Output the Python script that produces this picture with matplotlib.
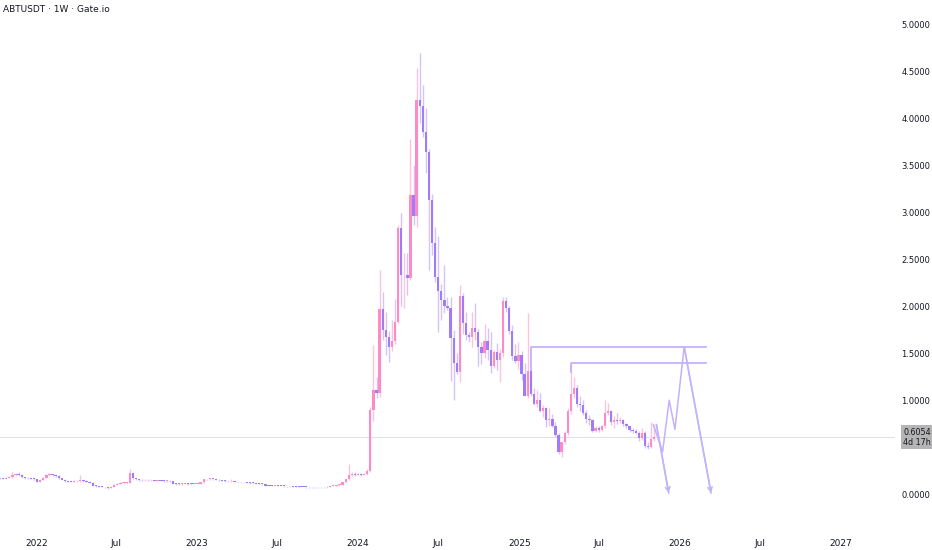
import matplotlib
matplotlib.use("Agg")
import matplotlib.pyplot as plt
import matplotlib.dates as mdates
import numpy as np
import pandas as pd

# weekly candles, ABTUSDT (Gate.io), first week 2021-10-11
first_week = "2021-10-11"
first_open = 0.17
closes = [
    0.167, 0.165, 0.175, 0.18, 0.205, 0.21, 0.205, 0.18, 0.17, 0.168,
    0.165, 0.16, 0.13, 0.15, 0.175, 0.20, 0.21, 0.205, 0.195, 0.17,
    0.15, 0.135, 0.132, 0.13, 0.135, 0.138, 0.14, 0.138, 0.13, 0.12,
    0.09, 0.085, 0.08, 0.078, 0.07, 0.062, 0.08, 0.10, 0.11, 0.115,
    0.118, 0.12, 0.22, 0.17, 0.155, 0.148, 0.145, 0.148, 0.145, 0.146,
    0.14, 0.142, 0.14, 0.138, 0.14, 0.135, 0.11, 0.108, 0.107, 0.108,
    0.11, 0.108, 0.106, 0.108, 0.112, 0.125, 0.155, 0.158, 0.16, 0.158,
    0.152, 0.145, 0.14, 0.138, 0.135, 0.138, 0.13, 0.125, 0.123, 0.125,
    0.12, 0.118, 0.115, 0.112, 0.11, 0.105, 0.09, 0.088, 0.087, 0.09,
    0.088, 0.086, 0.085, 0.083, 0.082, 0.08, 0.078, 0.076, 0.075, 0.073,
    0.072, 0.071, 0.07, 0.072, 0.07, 0.07, 0.078, 0.085, 0.09, 0.095,
    0.10, 0.125, 0.156,
    # 2023-12-11 onwards
    0.20, 0.21, 0.205, 0.21, 0.20, 0.21, 0.25, 0.90, 1.11, 1.08,
    1.97, 1.75, 1.67, 1.57, 1.63, 1.83, 2.84, 2.33, 2.34, 2.30,
    3.19, 2.96, 4.20, 4.14, 3.86, 3.65, 3.13, 2.68, 2.31, 2.16,
    2.07, 2.00, 1.98, 1.66, 1.40, 1.30, 2.11, 1.82, 1.69, 1.67,
    1.77, 1.73, 1.57, 1.50, 1.63, 1.53, 1.36, 1.51, 1.43, 1.50,
    2.06, 1.98, 1.74, 1.47, 1.42, 1.48, 1.28, 1.05, 1.315, 1.07,
    0.96, 1.00, 0.89, 0.92, 0.79, 0.80, 0.72, 0.63, 0.45, 0.55,
    0.65, 0.88, 1.07, 1.13, 0.96, 0.95, 0.86, 0.80, 0.79, 0.675,
    0.70, 0.68, 0.72, 0.86, 0.89, 0.77, 0.79, 0.78, 0.79, 0.75,
    0.72, 0.68, 0.675, 0.655, 0.595, 0.655, 0.51, 0.50, 0.59, 0.6054,
]
highs = [
    0.18, 0.175, 0.185, 0.19, 0.23, 0.225, 0.23, 0.21, 0.185, 0.18,
    0.175, 0.17, 0.165, 0.16, 0.18, 0.215, 0.22, 0.215, 0.21, 0.20,
    0.175, 0.155, 0.14, 0.14, 0.145, 0.15, 0.20, 0.15, 0.145, 0.135,
    0.125, 0.095, 0.09, 0.085, 0.08, 0.072, 0.085, 0.105, 0.12, 0.125,
    0.125, 0.13, 0.263, 0.225, 0.175, 0.16, 0.155, 0.155, 0.155, 0.16,
    0.15, 0.15, 0.148, 0.145, 0.15, 0.145, 0.14, 0.115, 0.115, 0.115,
    0.118, 0.115, 0.112, 0.115, 0.12, 0.13, 0.16, 0.165, 0.168, 0.165,
    0.16, 0.155, 0.148, 0.145, 0.142, 0.16, 0.14, 0.132, 0.13, 0.13,
    0.128, 0.125, 0.122, 0.12, 0.116, 0.112, 0.108, 0.095, 0.093, 0.10,
    0.094, 0.092, 0.09, 0.089, 0.087, 0.086, 0.084, 0.082, 0.08, 0.078,
    0.077, 0.076, 0.075, 0.076, 0.075, 0.075, 0.082, 0.09, 0.095, 0.10,
    0.11, 0.13, 0.16,
    0.32, 0.24, 0.23, 0.225, 0.22, 0.225, 0.27, 0.93, 1.59, 1.25,
    2.39, 2.15, 1.94, 1.74, 1.85, 2.08, 2.87, 3.00, 2.57, 2.57,
    3.78, 3.51, 4.54, 4.70, 4.36, 4.11, 3.68, 3.20, 2.85, 2.75,
    2.24, 2.44, 2.10, 2.10, 1.75, 1.50, 2.23, 2.14, 1.94, 1.73,
    1.94, 2.04, 1.76, 1.62, 1.81, 1.77, 1.73, 1.54, 1.61, 1.55,
    2.10, 2.10, 2.00, 1.80, 1.60, 1.62, 1.52, 1.40, 1.93, 1.34,
    1.13, 1.11, 1.08, 0.95, 0.93, 0.92, 0.85, 0.77, 0.65, 0.56,
    0.67, 0.92, 1.39, 1.25, 1.16, 1.05, 1.00, 0.90, 0.84, 0.80,
    0.73, 0.72, 0.74, 1.00, 0.97, 0.90, 0.83, 0.86, 0.82, 0.80,
    0.76, 0.73, 0.70, 0.69, 0.67, 0.70, 0.67, 0.56, 0.77, 0.74,
]
lows = [
    0.16, 0.16, 0.16, 0.17, 0.175, 0.195, 0.19, 0.175, 0.165, 0.16,
    0.158, 0.15, 0.125, 0.125, 0.145, 0.17, 0.195, 0.195, 0.185, 0.165,
    0.145, 0.13, 0.125, 0.125, 0.125, 0.13, 0.13, 0.13, 0.125, 0.115,
    0.085, 0.08, 0.075, 0.07, 0.065, 0.055, 0.06, 0.078, 0.095, 0.105,
    0.11, 0.112, 0.115, 0.165, 0.15, 0.14, 0.14, 0.14, 0.14, 0.14,
    0.135, 0.135, 0.135, 0.132, 0.133, 0.13, 0.105, 0.10, 0.10, 0.10,
    0.102, 0.10, 0.10, 0.102, 0.105, 0.11, 0.12, 0.15, 0.152, 0.15,
    0.145, 0.14, 0.135, 0.132, 0.13, 0.132, 0.125, 0.12, 0.118, 0.12,
    0.115, 0.112, 0.11, 0.108, 0.105, 0.10, 0.085, 0.083, 0.082, 0.084,
    0.083, 0.081, 0.08, 0.078, 0.077, 0.076, 0.074, 0.072, 0.071, 0.069,
    0.068, 0.067, 0.066, 0.067, 0.066, 0.066, 0.068, 0.075, 0.082, 0.086,
    0.09, 0.095, 0.12,
    0.15, 0.19, 0.195, 0.20, 0.195, 0.20, 0.20, 0.24, 0.78, 1.02,
    1.03, 1.64, 1.48, 1.41, 1.52, 1.60, 1.82, 2.00, 1.98, 2.12,
    2.28, 2.87, 2.85, 3.95, 3.81, 3.42, 2.39, 2.55, 2.26, 1.73,
    1.85, 1.93, 1.96, 1.21, 1.00, 1.28, 1.19, 1.71, 1.64, 1.62,
    1.57, 1.64, 1.37, 1.39, 1.45, 1.43, 1.29, 1.34, 1.32, 1.19,
    1.46, 1.94, 1.71, 1.43, 1.40, 1.33, 1.22, 1.04, 1.02, 1.05,
    0.95, 0.93, 0.87, 0.82, 0.71, 0.73, 0.71, 0.61, 0.43, 0.40,
    0.53, 0.63, 0.85, 1.02, 0.93, 0.88, 0.84, 0.76, 0.74, 0.66,
    0.66, 0.66, 0.67, 0.70, 0.84, 0.74, 0.70, 0.75, 0.76, 0.73,
    0.70, 0.66, 0.65, 0.64, 0.57, 0.58, 0.49, 0.48, 0.49, 0.57,
]
opens = [first_open] + closes[:-1]
last_price = 0.6054
countdown = "4d 17h"

# hand-drawn levels and projection
level_starts = ["2025-01-27", "2025-04-28"]
level_prices = [1.564, 1.393]
level_bases = [1.32, 1.30]
level_end = "2026-02-28"
path_a_dates = ["2025-11-01", "2025-11-22", "2025-12-07", "2025-12-20", "2026-01-10", "2026-03-12"]
path_a_prices = [0.74, 0.45, 1.00, 0.69, 1.57, 0.01]
path_b_dates = ["2025-11-08", "2025-12-06"]
path_b_prices = [0.74, 0.01]

y_ticks = [0, 1, 1.5, 2, 2.5, 3, 3.5, 4, 4.5, 5]
x_tick_dates = ["2022-01-01", "2022-07-01", "2023-01-01", "2023-07-01", "2024-01-01",
                "2024-07-01", "2025-01-01", "2025-07-01", "2026-01-01", "2026-07-01",
                "2027-01-01"]
x_tick_labels = ["2022", "Jul", "2023", "Jul", "2024", "Jul", "2025", "Jul", "2026", "Jul", "2027"]

UP = "#fc8bc6"
DOWN = "#a07cf6"
UP_WICK = "#fcc3df"
DOWN_WICK = "#d3c4fb"
DRAW = "#c3b2fb"
TEXT = "#131722"

dates = mdates.date2num(pd.date_range(first_week, periods=len(closes), freq="7D"))
o = np.array(opens)
c = np.array(closes)
up = c >= o

fig = plt.figure(figsize=(9.32, 5.5), dpi=100)
ax = fig.add_axes([0, 22 / 550, 895 / 932, 1 - 22 / 550])

ax.vlines(dates[up], np.array(lows)[up], np.array(highs)[up], color=UP_WICK, lw=1, zorder=2)
ax.vlines(dates[~up], np.array(lows)[~up], np.array(highs)[~up], color=DOWN_WICK, lw=1, zorder=2)
body = np.maximum(np.abs(c - o), 0.008)
ax.bar(dates[up], body[up], bottom=np.minimum(o, c)[up], width=5.2, color=UP, lw=0, zorder=3)
ax.bar(dates[~up], body[~up], bottom=np.minimum(o, c)[~up], width=5.2, color=DOWN, lw=0, zorder=3)

# current price line
ax.axhline(last_price, color="#e0e3eb", lw=0.8, zorder=1)

# levels
end = mdates.datestr2num(level_end)
for s, p, b in zip(level_starts, level_prices, level_bases):
    s = mdates.datestr2num(s)
    ax.plot([s, s, end], [b, p, p], color=DRAW, lw=1.3, zorder=4)

# projection paths
for ds, ps in [(path_a_dates, path_a_prices), (path_b_dates, path_b_prices)]:
    xs = [mdates.datestr2num(d) for d in ds]
    ax.plot(xs, ps, color=DRAW, lw=1.1, zorder=4)
    ax.annotate("", xy=(xs[-1], ps[-1]), xytext=(xs[-2], ps[-2]),
                arrowprops=dict(arrowstyle="->", color=DRAW, lw=1.1,
                                mutation_scale=8, shrinkA=0, shrinkB=0))

ax.set_xlim(mdates.datestr2num("2024-01-01") - 812.2, mdates.datestr2num("2024-01-01") + 1218.3)
ax.set_ylim(-0.362, 5.266)

for sp in ax.spines.values():
    sp.set_visible(False)
ax.yaxis.tick_right()
ax.set_yticks(y_ticks)
ax.set_yticklabels([f"{v:.4f}" for v in y_ticks])
ax.tick_params(axis="y", length=0, pad=4.5, labelsize=6, labelcolor=TEXT)
ax.set_xticks([mdates.datestr2num(d) for d in x_tick_dates])
ax.set_xticklabels(x_tick_labels)
ax.tick_params(axis="x", length=0, pad=8, labelsize=6.5, labelcolor=TEXT)
for lbl in ax.get_yticklabels():
    lbl.set_horizontalalignment("left")

ax.text(1.009, last_price, f"{last_price:.4f}\n{countdown}",
        transform=ax.get_yaxis_transform(), fontsize=5.8, color=TEXT,
        va="center", ha="left", linespacing=1.15,
        bbox=dict(boxstyle="square,pad=0.3", fc="#b5b5b5", ec="none"))

fig.text(3 / 932, 1 - 10 / 550, "ABTUSDT · 1W · Gate.io", fontsize=6.5, color=TEXT,
         va="center", ha="left")

fig.savefig("out.png", dpi=100)
